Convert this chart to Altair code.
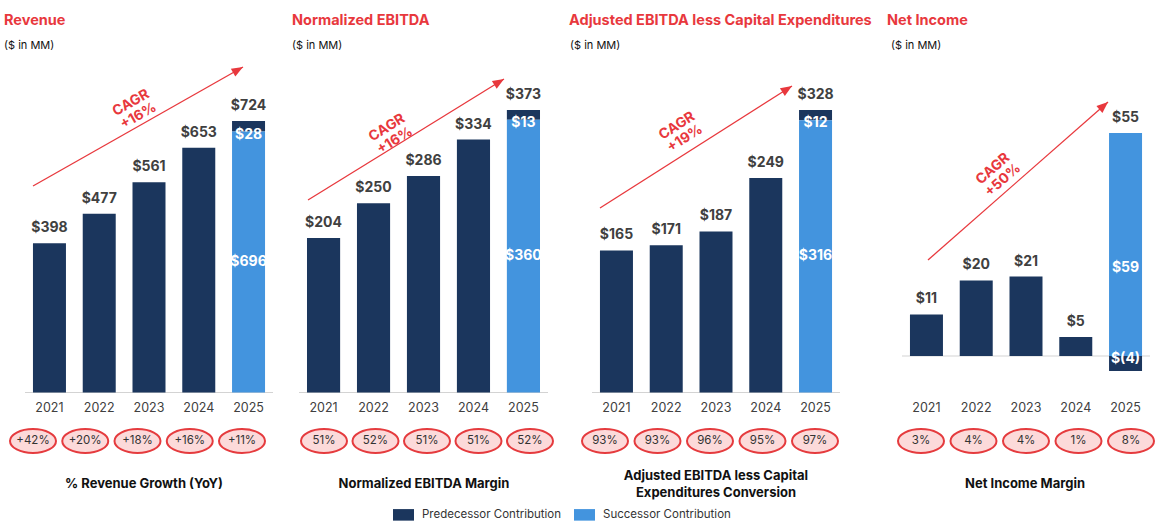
import math
import altair as alt
import pandas as pd

# ---------------- data ----------------
YEARS = ["2021", "2022", "2023", "2024", "2025"]
SERIES = ["Predecessor Contribution", "Successor Contribution"]

PANEL_TITLES = ["Revenue", "Normalized EBITDA",
                "Adjusted EBITDA less Capital Expenditures", "Net Income"]
PANEL_SUBTITLE = "($ in MM)"

# predecessor values (2025 = predecessor part of the stacked bar)
REVENUE_PRED = [398, 477, 561, 653, 28]
EBITDA_PRED = [204, 250, 286, 334, 13]
ADJ_PRED = [165, 171, 187, 249, 12]
NI_PRED = [11, 20, 21, 5, -4]
# successor contribution in 2025
SUCC_2025 = [696, 360, 316, 59]

REV_GROWTH = ["+42%", "+20%", "+18%", "+16%", "+11%"]
EBITDA_MARGIN = ["51%", "52%", "51%", "51%", "52%"]
ADJ_CONV = ["93%", "93%", "96%", "95%", "97%"]
NI_MARGIN = ["3%", "4%", "4%", "1%", "8%"]

CAGR = ["+16%", "+16%", "+19%", "+50%"]

BOTTOM_TITLES = ["% Revenue Growth (YoY)", "Normalized EBITDA Margin",
                 "Adjusted EBITDA less Capital\nExpenditures Conversion",
                 "Net Income Margin"]

# ---------------- styling / layout ----------------
H_TOP = 425
H_BOT = 102
NAVY = "#1B365D"
BLUE = "#4394DE"
RED = "#E8383D"
BADGE_FILL = "#FCDADA"
BADGE_STROKE = "#E53B3E"
LINE = "#D3D3D3"
DARK = "#404040"
FONT = "Inter"
BT_LINE_H = 17

LAYOUT = [
    dict(w=280, xr=(25, 273), bx=(33, 242), base=392.5, ppu=0.375, tx=4, sx=4, bt=144,
         arrow=(33, 186, 243, 67), ctext=(131, 103), mid_dy=0),
    dict(w=280, xr=(19, 268), bx=(44, 250), base=392.5, ppu=0.7574, tx=12, sx=12, bt=144,
         arrow=(28, 200, 224, 79), ctext=(107, 128), mid_dy=0),
    dict(w=320, xr=(32, 280), bx=(45, 255), base=392.5, ppu=0.8613, tx=9, sx=10, bt=156,
         arrow=(40, 208, 232, 86), ctext=(117, 126), mid_dy=0),
    dict(w=287, xr=(22, 270), bx=(41, 251), base=356, ppu=3.78, tx=7, sx=11, bt=145,
         arrow=(48, 260, 228, 102), ctext=(113, 169), mid_dy=24),
]

ELLIPSE = "M-1,0A1,0.52 0 1,0 1,0A1,0.52 0 1,0 -1,0Z"
ARROWHEAD = "M0,0L-0.8,2L0.8,2Z"
LEGEND_RECT = "M-1,-0.55L1,-0.55L1,0.55L-1,0.55Z"

color_scale = alt.Scale(domain=SERIES, range=[NAVY, BLUE])
legend = alt.Legend(
    title=None, orient="none", legendX=393, legendY=504, direction="horizontal",
    symbolType=LEGEND_RECT, symbolSize=441, symbolStrokeWidth=0, symbolOpacity=1,
    labelFont=FONT, labelFontSize=11.5, labelColor="#333333", labelOffset=8,
    columnPadding=12, padding=0,
)


def fmt(v):
    return f"${v}" if v >= 0 else f"$({-v})"


def make_top(i, pred, succ):
    lay = LAYOUT[i]
    lo = -(H_TOP - lay["base"]) / lay["ppu"]
    hi = lay["base"] / lay["ppu"]
    ys = alt.Scale(domain=[lo, hi], nice=False, zero=False)
    xs = alt.Scale(domain=YEARS, range=list(lay["xr"]), paddingInner=0.337, paddingOuter=0.16)

    rows = [dict(year=y, series=SERIES[0], value=v, ord=1) for y, v in zip(YEARS, pred)]
    rows.append(dict(year=YEARS[-1], series=SERIES[1], value=succ, ord=0))
    bars_df = pd.DataFrame(rows)

    tops = []
    for y, v in zip(YEARS, pred):
        if y == YEARS[-1]:
            tops.append(dict(year=y, top=succ + max(v, 0), label=fmt(v + succ)))
        else:
            tops.append(dict(year=y, top=v, label=fmt(v)))
    top_df = pd.DataFrame(tops)

    mid_df = pd.DataFrame([dict(year=YEARS[-1], pos=succ / 2, label=fmt(succ))])
    p25 = pred[-1]
    edge_df = pd.DataFrame([dict(year=YEARS[-1], pos=succ if p25 > 0 else 0, label=fmt(p25))])

    year_df = pd.DataFrame({"year": YEARS})
    one = pd.DataFrame({"a": [0]})

    X = alt.X("year:O", scale=xs, axis=None)

    base_rule = alt.Chart(one).mark_rule(color=LINE, strokeWidth=1.2).encode(
        x=alt.value(lay["xr"][0]), x2=alt.value(lay["xr"][1]),
        y=alt.Y("a:Q", scale=ys, axis=None)
    )
    bars = alt.Chart(bars_df).mark_bar().encode(
        x=X,
        y=alt.Y("value:Q", scale=ys, axis=None, stack="zero"),
        color=alt.Color("series:N", scale=color_scale, legend=legend),
        order=alt.Order("ord:Q"),
    )
    top_lbl = alt.Chart(top_df).mark_text(
        font=FONT, fontSize=14, fontWeight="bold", color=DARK, baseline="middle", dy=-15
    ).encode(x=X, y=alt.Y("top:Q", scale=ys, axis=None), text="label:N")
    mid_lbl = alt.Chart(mid_df).mark_text(
        font=FONT, fontSize=14, fontWeight="bold", color="white", baseline="middle",
        dy=lay["mid_dy"]
    ).encode(x=X, y=alt.Y("pos:Q", scale=ys, axis=None), text="label:N")
    edge_lbl = alt.Chart(edge_df).mark_text(
        font=FONT, fontSize=14, fontWeight="bold", color="white", baseline="middle", dy=3
    ).encode(x=X, y=alt.Y("pos:Q", scale=ys, axis=None), text="label:N")
    year_lbl = alt.Chart(year_df).mark_text(
        font=FONT, fontSize=12.5, color=DARK, baseline="middle"
    ).encode(x=X, y=alt.value(408), text="year:N")

    t_df = pd.DataFrame({"t": [PANEL_TITLES[i]], "s": [PANEL_SUBTITLE]})
    title = alt.Chart(t_df).mark_text(
        font=FONT, fontSize=14.5, fontWeight="bold", color=RED, align="left", baseline="middle"
    ).encode(x=alt.value(lay["tx"]), y=alt.value(21), text="t:N")
    subtitle = alt.Chart(t_df).mark_text(
        font=FONT, fontSize=11, color="#111111", align="left", baseline="middle"
    ).encode(x=alt.value(lay["sx"]), y=alt.value(46), text="s:N")

    x1, y1, x2, y2 = lay["arrow"]
    slope = math.degrees(math.atan2(y1 - y2, x2 - x1))
    arrow = alt.Chart(one).mark_rule(color=RED, strokeWidth=1.3).encode(
        x=alt.value(x1), y=alt.value(y1), x2=alt.value(x2), y2=alt.value(y2)
    )
    head = alt.Chart(one).mark_point(
        shape=ARROWHEAD, size=130, filled=True, color=RED, opacity=1, angle=90 - slope
    ).encode(x=alt.value(x2), y=alt.value(y2))
    c_df = pd.DataFrame({"t": ["CAGR\n" + CAGR[i]]})
    cagr = alt.Chart(c_df).mark_text(
        font=FONT, fontSize=14, fontWeight="bold", color=RED, align="center",
        baseline="middle", lineBreak="\n", lineHeight=15, angle=360 - slope
    ).encode(x=alt.value(lay["ctext"][0]), y=alt.value(lay["ctext"][1]), text="t:N")

    return alt.layer(
        base_rule, bars, top_lbl, mid_lbl, edge_lbl, year_lbl,
        title, subtitle, arrow, head, cagr
    ).properties(width=lay["w"], height=H_TOP)


def make_bottom(i, badges):
    lay = LAYOUT[i]
    bs = alt.Scale(type="point", domain=YEARS, range=list(lay["bx"]), padding=0)
    badge_df = pd.DataFrame({"year": YEARS, "badge": badges})
    BX = alt.X("year:O", scale=bs, axis=None)
    badge = alt.Chart(badge_df).mark_point(
        shape=ELLIPSE, size=2116, filled=True, fill=BADGE_FILL, stroke=BADGE_STROKE,
        strokeWidth=2, opacity=1, fillOpacity=1
    ).encode(x=BX, y=alt.value(439 - H_TOP))
    badge_txt = alt.Chart(badge_df).mark_text(
        font=FONT, fontSize=11.5, color="#333333", baseline="middle"
    ).encode(x=BX, y=alt.value(439 - H_TOP), text="badge:N")
    text = BOTTOM_TITLES[i]
    n_lines = text.count("\n") + 1
    bt_y = 482 - H_TOP - (n_lines - 1) * BT_LINE_H / 2
    bt_df = pd.DataFrame({"t": [text]})
    bottom = alt.Chart(bt_df).mark_text(
        font=FONT, fontSize=13, fontWeight="bold", color="#111111", baseline="middle",
        align="center", lineBreak="\n", lineHeight=BT_LINE_H
    ).encode(x=alt.value(lay["bt"]), y=alt.value(bt_y), text="t:N")
    return alt.layer(badge, badge_txt, bottom).properties(width=lay["w"], height=H_BOT)


top_row = alt.hconcat(
    make_top(0, REVENUE_PRED, SUCC_2025[0]),
    make_top(1, EBITDA_PRED, SUCC_2025[1]),
    make_top(2, ADJ_PRED, SUCC_2025[2]),
    make_top(3, NI_PRED, SUCC_2025[3]),
    spacing=0, bounds="flush",
)
bottom_row = alt.hconcat(
    make_bottom(0, REV_GROWTH),
    make_bottom(1, EBITDA_MARGIN),
    make_bottom(2, ADJ_CONV),
    make_bottom(3, NI_MARGIN),
    spacing=0, bounds="flush",
)

chart = alt.vconcat(top_row, bottom_row, spacing=0, padding=0).configure(
    font=FONT, background="white"
).configure_view(stroke="transparent", strokeWidth=0, fill="white")

chart.save("out.html", embed_options={"renderer": "svg", "actions": False})
